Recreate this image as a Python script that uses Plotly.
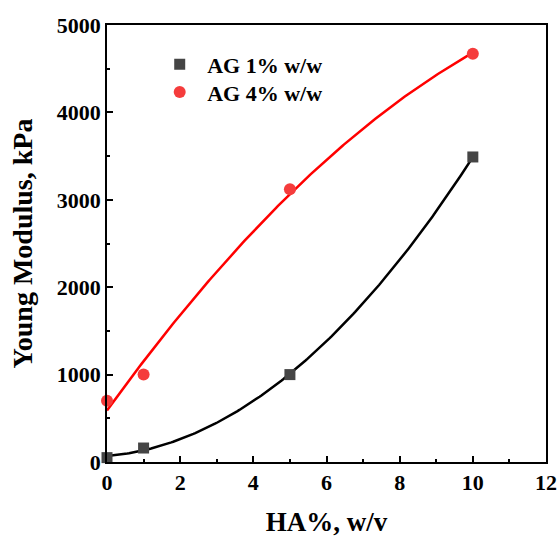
import numpy as np
import plotly.graph_objects as go

ha = [0, 1, 5, 10]
ag1 = [50, 160, 1000, 3490]
ag4 = [700, 1000, 3120, 4670]
x_ticks = [0, 2, 4, 6, 8, 10, 12]
y_ticks = [0, 1000, 2000, 3000, 4000, 5000]

FONT = "Liberation Serif"
xf = np.linspace(0, 10, 200)
c1 = np.polyfit(ha, ag1, 2)
c4 = np.polyfit(ha, ag4, 2)

fig = go.Figure()
fig.add_trace(go.Scatter(x=xf, y=np.polyval(c1, xf), mode="lines",
                         line=dict(color="black", width=2.5), showlegend=False))
fig.add_trace(go.Scatter(x=xf, y=np.polyval(c4, xf), mode="lines",
                         line=dict(color="#ff0000", width=2.5), showlegend=False))
fig.add_trace(go.Scatter(x=ha, y=ag1, mode="markers", name="<b>AG 1% w/w</b>", legend="legend",
                         marker=dict(symbol="square", size=11, color="#454545"), cliponaxis=False))
fig.add_trace(go.Scatter(x=ha, y=ag4, mode="markers", name="<b>AG 4% w/w</b>", legend="legend2",
                         marker=dict(symbol="circle", size=12, color="#f53c3c"), cliponaxis=False))

axis_common = dict(showline=True, linecolor="black", linewidth=1.5, mirror=True,
                   ticks="inside", ticklen=6, tickwidth=1.5, tickcolor="black",
                   showgrid=False, zeroline=False, automargin=False,
                   tickfont=dict(family=FONT, size=22, color="black"))

fig.update_xaxes(range=[0, 12], tickvals=x_ticks, ticktext=[f"<b>{v}</b>" for v in x_ticks],
                 minor=dict(dtick=1, ticks="inside", ticklen=3, tickwidth=1.5, tickcolor="black"),
                 title=dict(text="<b>HA%, w/v</b>", font=dict(family=FONT, size=27, color="black"), standoff=22),
                 **axis_common)
fig.update_yaxes(range=[0, 5000], tickvals=y_ticks, ticktext=[f"<b>{v}</b>" for v in y_ticks],
                 minor=dict(dtick=500, ticks="inside", ticklen=3, tickwidth=1.5, tickcolor="black"),
                 title=dict(text="<b>Young Modulus, kPa</b>", font=dict(family=FONT, size=28, color="black"), standoff=16),
                 **axis_common)

leg_common = dict(xanchor="left", yanchor="middle", bgcolor="rgba(0,0,0,0)",
                  font=dict(family=FONT, size=22, color="black"), itemwidth=45)
fig.update_layout(
    width=558, height=537,
    margin=dict(l=107, r=12, t=25, b=75),
    paper_bgcolor="white", plot_bgcolor="white",
    font=dict(family=FONT, size=20, color="black"),
    legend=dict(x=0.103, y=0.91, **leg_common),
    legend2=dict(x=0.103, y=0.846, **leg_common),
)

fig.write_html("out.html")
